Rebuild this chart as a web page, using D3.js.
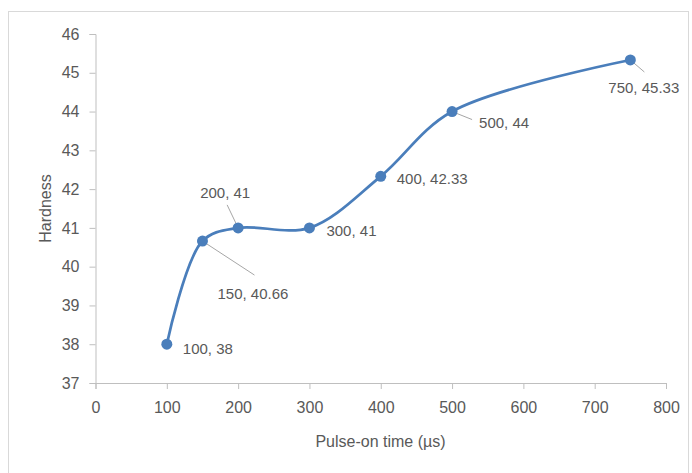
<!DOCTYPE html>
<html><head><meta charset="utf-8">
<script src="https://cdn.jsdelivr.net/npm/d3@7"></script>
<style>body{margin:0;background:#fff}svg{display:block}text{font-family:"Liberation Sans",Arial,sans-serif;fill:#595959}</style>
</head><body>
<svg id="c" width="692" height="473"></svg>
<script>
const pulseOn = [100, 150, 200, 300, 400, 500, 750];
const hardness = [38, 40.66, 41, 41, 42.33, 44, 45.33];
const labels = ["100, 38", "150, 40.66", "200, 41", "300, 41", "400, 42.33", "500, 44", "750, 45.33"];
const xTicks = [0, 100, 200, 300, 400, 500, 600, 700, 800];
const yTicks = [37, 38, 39, 40, 41, 42, 43, 44, 45, 46];
// label offsets (px) relative to point, and whether a leader line is drawn
const labelOffsets = [[16, 5], [15, 53], [-38, -35], [17, 3], [16, 2], [27, 11], [-22, 28]];
const leaders = [false, true, true, false, false, true, true];

const svg = d3.select("#c");
svg.append("rect").attr("x", 8.5).attr("y", 11.5).attr("width", 680).attr("height", 470)
  .attr("fill", "#fff").attr("stroke", "#d9d9d9");

const x = d3.scaleLinear().domain([0, 800]).range([95.5, 666]);
const y = d3.scaleLinear().domain([37, 46]).range([383, 34]);

const gx = svg.append("g").attr("transform", "translate(0,383)")
  .call(d3.axisBottom(x).tickValues(xTicks).tickSize(6).tickPadding(13));
const gy = svg.append("g").attr("transform", "translate(95.5,0)")
  .call(d3.axisLeft(y).tickValues(yTicks).tickSize(6).tickPadding(10));
[gx, gy].forEach(g => {
  g.select(".domain").attr("stroke", "#bfbfbf");
  g.selectAll(".tick line").attr("stroke", "#bfbfbf");
  g.selectAll(".tick text").attr("fill", "#595959").style("font-size", "16px")
    .style("font-family", '"Liberation Sans",Arial,sans-serif');
});

svg.append("text").attr("x", 380.5).attr("y", 447).attr("text-anchor", "middle")
  .style("font-size", "16px").text("Pulse-on time (µs)");
svg.append("text").attr("transform", "translate(51,208.5) rotate(-90)").attr("text-anchor", "middle")
  .style("font-size", "16px").text("Hardness");

const pts = pulseOn.map((v, i) => [x(v), y(hardness[i])]);

// leader lines
pts.forEach((p, i) => {
  if (!leaders[i]) return;
  let end;
  if (i === 1) end = [p[0] + 52, p[1] + 34];
  else if (i === 2) end = [p[0] - 11, p[1] - 23];
  else if (i === 5) end = [p[0] + 20, p[1] + 8];
  else end = [p[0] + 14, p[1] + 12];
  svg.append("line").attr("x1", p[0]).attr("y1", p[1]).attr("x2", end[0]).attr("y2", end[1])
    .attr("stroke", "#a6a6a6").attr("stroke-width", 1);
});

svg.append("path").datum(pts)
  .attr("d", d3.line().curve(d3.curveCatmullRom.alpha(0.5)))
  .attr("fill", "none").attr("stroke", "#4a7ebb").attr("stroke-width", 2.75);

svg.selectAll("circle.pt").data(pts).join("circle").attr("class", "pt")
  .attr("cx", d => d[0]).attr("cy", d => d[1]).attr("r", 5.5).attr("fill", "#4a7ebb");

svg.selectAll("text.lbl").data(pts).join("text").attr("class", "lbl")
  .attr("x", (d, i) => d[0] + labelOffsets[i][0])
  .attr("y", (d, i) => d[1] + labelOffsets[i][1])
  .attr("dy", "0.35em")
  .style("font-size", "15px")
  .text((d, i) => labels[i]);
</script>
</body></html>
